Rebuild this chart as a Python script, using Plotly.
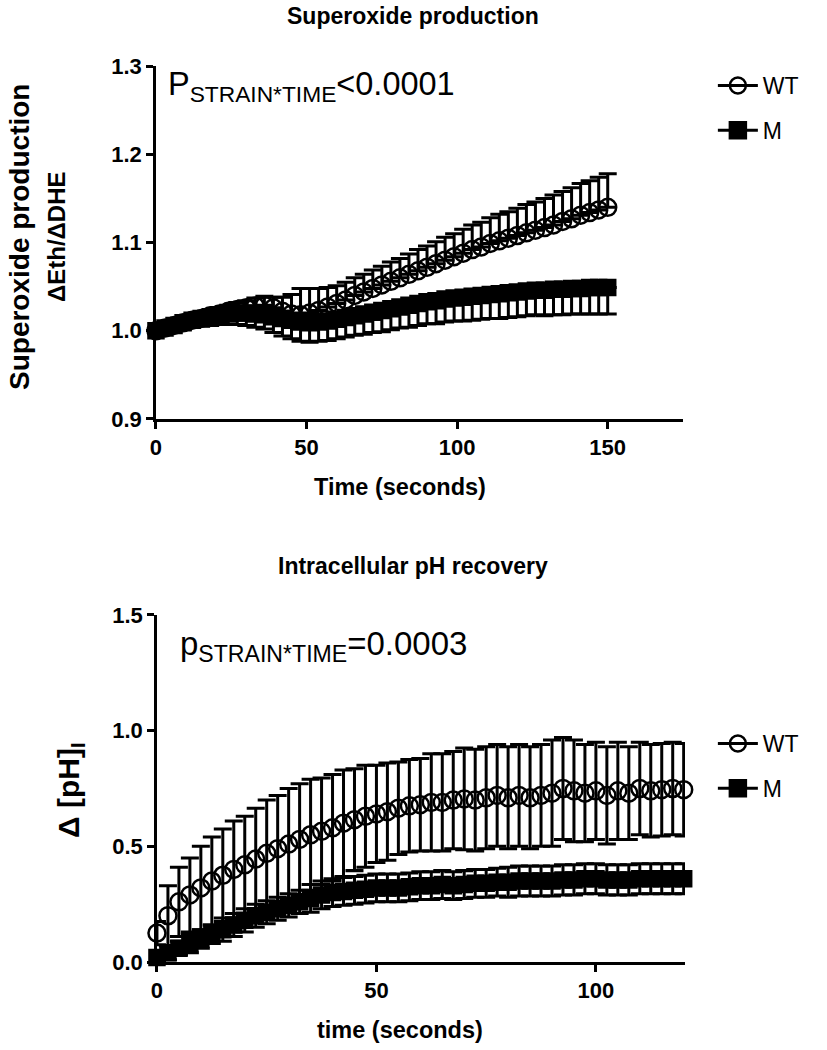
#--------------------- Packages
import plotly.graph_objects as go

#--------------------- Data
# Superoxide production (top panel)
so_time = [0, 3, 6, 9, 12, 15, 18, 21, 24, 27, 30, 33, 36, 39, 42, 45, 48, 51, 54, 57,
           60, 63, 66, 69, 72, 75, 78, 81, 84, 87, 90, 93, 96, 99, 102, 105, 108, 111, 114, 117,
           120, 123, 126, 129, 132, 135, 138, 141, 144, 147, 150]
so_wt = [1.000, 1.003, 1.006, 1.009, 1.012, 1.014, 1.017, 1.019, 1.022, 1.024,
         1.026, 1.028, 1.029, 1.026, 1.022, 1.019, 1.018, 1.020, 1.023, 1.027,
         1.031, 1.035, 1.040, 1.044, 1.048, 1.052, 1.056, 1.060, 1.064, 1.068,
         1.072, 1.076, 1.080, 1.084, 1.088, 1.092, 1.095, 1.099, 1.102, 1.105,
         1.108, 1.111, 1.114, 1.117, 1.120, 1.124, 1.127, 1.131, 1.134, 1.137, 1.140]
# WT SEM drawn upward only
so_wt_err = [0.002, 0.003, 0.004, 0.005, 0.005, 0.006, 0.006, 0.007, 0.007, 0.008,
             0.008, 0.009, 0.010, 0.012, 0.016, 0.022, 0.030, 0.028, 0.025, 0.022,
             0.020, 0.020, 0.020, 0.020, 0.021, 0.021, 0.022, 0.022, 0.023, 0.024,
             0.024, 0.025, 0.026, 0.026, 0.027, 0.028, 0.028, 0.029, 0.030, 0.030,
             0.031, 0.032, 0.032, 0.033, 0.034, 0.034, 0.035, 0.036, 0.036, 0.037, 0.038]
so_m = [1.000, 1.003, 1.006, 1.009, 1.012, 1.014, 1.016, 1.018, 1.019, 1.020,
        1.020, 1.019, 1.018, 1.016, 1.014, 1.012, 1.010, 1.009, 1.010, 1.011,
        1.013, 1.015, 1.017, 1.019, 1.021, 1.023, 1.025, 1.027, 1.029, 1.031,
        1.033, 1.034, 1.036, 1.037, 1.038, 1.039, 1.040, 1.041, 1.042, 1.043,
        1.044, 1.045, 1.046, 1.046, 1.047, 1.047, 1.048, 1.048, 1.049, 1.049, 1.049]
# M SEM drawn downward only
so_m_err = [0.004, 0.005, 0.006, 0.007, 0.008, 0.009, 0.010, 0.011, 0.012, 0.013,
            0.014, 0.015, 0.016, 0.018, 0.020, 0.021, 0.022, 0.022, 0.022, 0.022,
            0.022, 0.022, 0.022, 0.023, 0.023, 0.024, 0.024, 0.024, 0.025, 0.025,
            0.025, 0.026, 0.026, 0.026, 0.027, 0.027, 0.027, 0.027, 0.028, 0.028,
            0.028, 0.028, 0.028, 0.029, 0.029, 0.029, 0.029, 0.029, 0.030, 0.030, 0.030]

# Intracellular pH recovery (bottom panel)
ph_time = [0, 2.5, 5, 7.5, 10, 12.5, 15, 17.5, 20, 22.5, 25, 27.5, 30, 32.5, 35, 37.5,
           40, 42.5, 45, 47.5, 50, 52.5, 55, 57.5, 60, 62.5, 65, 67.5, 70, 72.5, 75, 77.5,
           80, 82.5, 85, 87.5, 90, 92.5, 95, 97.5, 100, 102.5, 105, 107.5, 110, 112.5,
           115, 117.5, 120]
ph_wt = [0.125, 0.20, 0.26, 0.29, 0.32, 0.35, 0.375, 0.40, 0.42, 0.445,
         0.47, 0.49, 0.51, 0.53, 0.55, 0.565, 0.58, 0.60, 0.615, 0.63,
         0.64, 0.65, 0.665, 0.675, 0.68, 0.69, 0.69, 0.70, 0.705, 0.70,
         0.71, 0.72, 0.71, 0.72, 0.71, 0.72, 0.73, 0.75, 0.74, 0.73,
         0.74, 0.72, 0.74, 0.73, 0.75, 0.74, 0.745, 0.75, 0.745]
ph_wt_err = [0.05, 0.13, 0.15, 0.16, 0.18, 0.19, 0.20, 0.21, 0.21, 0.22,
             0.23, 0.23, 0.24, 0.24, 0.24, 0.23, 0.23, 0.23, 0.22, 0.22,
             0.21, 0.21, 0.20, 0.20, 0.20, 0.21, 0.21, 0.21, 0.22, 0.22,
             0.22, 0.22, 0.22, 0.22, 0.22, 0.22, 0.23, 0.22, 0.22, 0.21,
             0.21, 0.21, 0.21, 0.20, 0.20, 0.20, 0.20, 0.20, 0.20]
ph_m = [0.02, 0.04, 0.06, 0.08, 0.10, 0.12, 0.14, 0.16, 0.18, 0.20,
        0.215, 0.23, 0.245, 0.26, 0.275, 0.29, 0.30, 0.305, 0.31, 0.315,
        0.32, 0.32, 0.32, 0.325, 0.33, 0.33, 0.335, 0.33, 0.335, 0.34,
        0.34, 0.345, 0.345, 0.35, 0.35, 0.35, 0.35, 0.355, 0.355, 0.36,
        0.36, 0.355, 0.355, 0.355, 0.36, 0.36, 0.36, 0.36, 0.36]
ph_m_err = [0.02, 0.03, 0.03, 0.04, 0.04, 0.04, 0.05, 0.05, 0.05, 0.05,
            0.05, 0.05, 0.05, 0.05, 0.06, 0.06, 0.06, 0.06, 0.06, 0.06,
            0.06, 0.06, 0.06, 0.06, 0.06, 0.06, 0.06, 0.06, 0.06, 0.06,
            0.06, 0.06, 0.065, 0.065, 0.065, 0.065, 0.065, 0.065, 0.065, 0.065,
            0.065, 0.065, 0.065, 0.065, 0.065, 0.065, 0.065, 0.065, 0.065]

FONT = "Liberation Sans, Arial, sans-serif"
CIRCLE_SIZE = 17
SQUARE_SIZE = 15

fig = go.Figure()

#--------------------- Traces
def add_series(x, y, err_up, err_down, name, symbol, xa, ya, legend, rank):
    size = CIRCLE_SIZE if symbol == 'circle-open' else SQUARE_SIZE
    fig.add_trace(go.Scatter(
        x=x, y=y, mode='markers', name=name, showlegend=False,
        xaxis=xa, yaxis=ya, cliponaxis=False,
        error_y=dict(type='data', symmetric=False, array=err_up, arrayminus=err_down,
                     visible=True, color='black', thickness=3, width=9),
        marker=dict(symbol=symbol, size=size, color='black',
                    line=dict(color='black', width=2.5))))
    # legend entry: line through marker, like the original
    fig.add_trace(go.Scatter(
        x=[None], y=[None], mode='lines+markers', name=name,
        xaxis=xa, yaxis=ya, legend=legend, legendgroup=legend + name, legendrank=rank,
        line=dict(color='black', width=3),
        marker=dict(symbol=symbol, size=size + 2, color='black',
                    line=dict(color='black', width=2.5))))

zeros_so = [0] * len(so_time)
add_series(so_time, so_m, zeros_so, so_m_err, 'M', 'square', 'x', 'y', 'legend', 2)
add_series(so_time, so_wt, so_wt_err, zeros_so, 'WT', 'circle-open', 'x', 'y', 'legend', 1)
add_series(ph_time, ph_m, ph_m_err, ph_m_err, 'M', 'square', 'x2', 'y2', 'legend2', 2)
add_series(ph_time, ph_wt, ph_wt_err, ph_wt_err, 'WT', 'circle-open', 'x2', 'y2', 'legend2', 1)

#--------------------- Axes
axis_style = dict(showline=True, linecolor='black', linewidth=2.5,
                  ticks='outside', ticklen=7, tickwidth=2.5, tickcolor='black',
                  showgrid=False, zeroline=False, automargin=False,
                  tickfont=dict(family=FONT, size=22, color='black', weight='bold'))

fig.update_layout(
    xaxis=dict(domain=[0.1886, 0.8259], range=[0, 175], tickvals=[0, 50, 100, 150],
               anchor='y', **axis_style),
    yaxis=dict(domain=[0.601, 0.937], range=[0.9, 1.3],
               tickvals=[0.9, 1.0, 1.1, 1.2, 1.3], ticktext=['0.9', '1.0', '1.1', '1.2', '1.3'],
               anchor='x', **axis_style),
    xaxis2=dict(domain=[0.1898, 0.8283], range=[0, 120.3], tickvals=[0, 50, 100],
                anchor='y2', **axis_style),
    yaxis2=dict(domain=[0.0838, 0.4143], range=[0, 1.5],
                tickvals=[0, 0.5, 1.0, 1.5], ticktext=['0.0', '0.5', '1.0', '1.5'],
                anchor='x2', **axis_style),
)

#--------------------- Text
annotations = [
    dict(text="<b>Superoxide production</b>", x=413 / 827, y=1 - 16 / 1050, font=dict(size=23)),
    dict(text="<b>Intracellular pH recovery</b>", x=413 / 827, y=1 - 566 / 1050, font=dict(size=23)),
    dict(text="<b>Time (seconds)</b>", x=400 / 827, y=1 - 487 / 1050, font=dict(size=23.5)),
    dict(text="<b>time (seconds)</b>", x=400 / 827, y=1 - 1030 / 1050, font=dict(size=23.5)),
    dict(text="<b>Superoxide production<br><span style='font-size:24px'>ΔEth/ΔDHE</span></b>",
         x=37 / 827, y=1 - 237 / 1050, textangle=-90, font=dict(size=28)),
    dict(text="<b>Δ [pH]<sub>I</sub></b>", x=70 / 827, y=1 - 790 / 1050,
         textangle=-90, font=dict(size=30)),
    dict(text="P<sub>STRAIN*TIME</sub>&lt;0.0001", x=166 / 827, y=1 - 86 / 1050,
         xanchor='left', font=dict(size=32.5)),
    dict(text="p<sub>STRAIN*TIME</sub>=0.0003", x=178 / 827, y=1 - 646 / 1050,
         xanchor='left', font=dict(size=33)),
]
for a in annotations:
    a.setdefault('xanchor', 'center')
    a.setdefault('yanchor', 'middle')
    a['font'] = dict(family=FONT, color='black', size=a['font']['size'])
    fig.add_annotation(xref='paper', yref='paper', showarrow=False, **a)

legend_style = dict(font=dict(family=FONT, size=23, color='black'),
                    bgcolor='rgba(0,0,0,0)', tracegroupgap=12,
                    traceorder='grouped',
                    xanchor='left', yanchor='top', itemwidth=40)

fig.update_layout(
    width=827, height=1050,
    margin=dict(l=0, r=0, t=0, b=0, autoexpand=False),
    plot_bgcolor='white', paper_bgcolor='white',
    font=dict(family=FONT, color='black'),
    legend=dict(x=0.862, y=1 - 64 / 1050, **legend_style),
    legend2=dict(x=0.862, y=1 - 722 / 1050, **legend_style),
)

# drop the default page margin so the figure sits at the window's corner
fig.write_html("out.html", config={'displayModeBar': False},
               post_script="document.body.style.margin='0';")
